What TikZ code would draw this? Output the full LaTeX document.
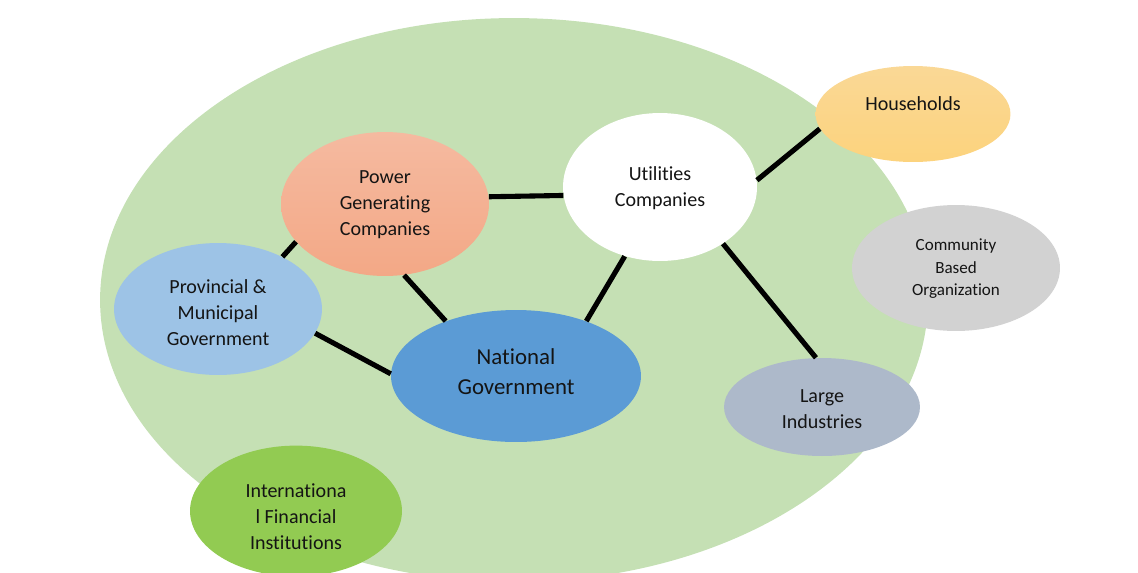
\documentclass[tikz,border=0pt]{standalone}
\usepackage{fontspec}
\setmainfont{Carlito}[Ligatures={NoCommon,NoRequired,NoContextual}]
\usetikzlibrary{shapes.geometric}

\definecolor{fieldgreen}{RGB}{197,224,180}
\definecolor{housetop}{RGB}{250,216,150}
\definecolor{housebot}{RGB}{252,211,125}
\definecolor{powertop}{RGB}{245,186,160}
\definecolor{powerbot}{RGB}{243,168,134}
\definecolor{provblue}{RGB}{157,195,230}
\definecolor{natblue}{RGB}{91,155,213}
\definecolor{indgray}{RGB}{173,185,202}
\definecolor{cbogray}{RGB}{210,210,210}
\definecolor{ifigreen}{RGB}{146,203,82}
\definecolor{inktext}{RGB}{20,20,20}

% centred multi-line label; #1 and #2 pad its top and bottom,
% which moves the text down or up inside its ellipse
\newcommand{\lbl}[3]{\raisebox{0pt}[\dimexpr\height+#1\relax][\dimexpr\depth+#2\relax]{%
  \begin{tabular}{@{}c@{}}#3\end{tabular}}}

\begin{document}
\begin{tikzpicture}[x=0.02cm,y=-0.02cm,
  blob/.style={ellipse, inner sep=0pt, align=center, text=inktext,
    font=\fontsize{11.4}{14.7}\selectfont},
  link/.style={line width=2.9pt, black}]

\useasboundingbox (0,0) rectangle (1138,572);
\clip (0,0) rectangle (1138,572);

% the surrounding field
\node[ellipse, inner sep=0pt, fill=fieldgreen,
  minimum width=16.56cm, minimum height=11.28cm] (field) at (514,300) {};

% actors
\node[blob, top color=housetop, bottom color=housebot,
  minimum width=3.9cm, minimum height=1.92cm] (house) at (913,114)
  {\lbl{0pt}{0.36cm}{Households}};
\node[blob, fill=white,
  minimum width=3.88cm, minimum height=2.96cm] (util) at (660,187)
  {\lbl{0.04cm}{0pt}{Utilities\\Companies}};
\node[blob, top color=powertop, bottom color=powerbot,
  minimum width=4.16cm, minimum height=2.88cm] (power) at (385,204)
  {\lbl{0.02cm}{0pt}{Power\\Generating\\Companies}};
\node[blob, fill=provblue,
  minimum width=4.16cm, minimum height=2.64cm] (prov) at (218,309)
  {\lbl{0.2cm}{0pt}{Provincial \&\\Municipal\\Government}};
\node[blob, fill=natblue, font=\fontsize{13}{17}\selectfont,
  minimum width=5.0cm, minimum height=2.64cm] (nat) at (516,376)
  {\lbl{0pt}{0.1cm}{National\\Government}};
\node[blob, fill=indgray,
  minimum width=3.92cm, minimum height=1.96cm] (ind) at (822,407)
  {\lbl{0.12cm}{0pt}{Large\\Industries}};
\node[blob, fill=cbogray, font=\fontsize{9.7}{13}\selectfont,
  minimum width=4.16cm, minimum height=2.52cm] (cbo) at (956,268)
  {\lbl{0.02cm}{0pt}{Community\\Based\\Organization}};
\node[blob, fill=ifigreen,
  minimum width=4.24cm, minimum height=2.56cm] (ifi) at (296,511)
  {\lbl{0.3cm}{0pt}{Internationa\\l Financial\\Institutions}};

% links
\draw[link] (power.4)   -- (util.185);
\draw[link] (power.203) -- (prov.39);
\draw[link] (power.285) -- (nat.142);
\draw[link] (prov.346)  -- (nat.179);
\draw[link] (util.243)  -- (nat.38);
\draw[link] (util.4)    -- (house.189);
\draw[link] (util.318)  -- (ind.97);
\end{tikzpicture}
\end{document}
